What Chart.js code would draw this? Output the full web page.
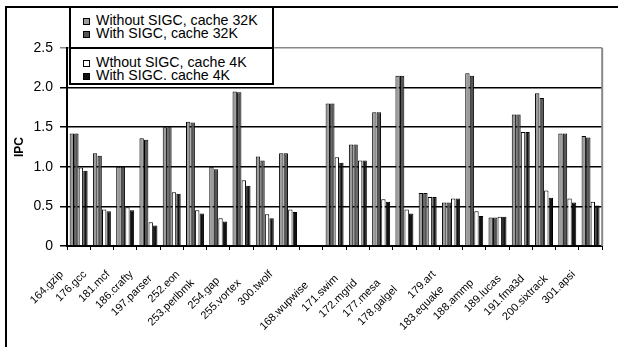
<!DOCTYPE html>
<html>
<head>
<meta charset="utf-8">
<script src="https://cdn.jsdelivr.net/npm/chart.js@4.4.1/dist/chart.umd.min.js"></script>
<style>
  html, body { margin: 0; padding: 0; background: #fff; overflow: hidden; width: 618px; height: 347px; }
  #wrap { position: relative; width: 618px; height: 347px; overflow: hidden; font-family: "Liberation Sans", Arial, sans-serif; }
  #frame { position: absolute; left: 5px; top: 6px; width: 613px; height: 341px; border-left: 2px solid #000; border-top: 2px solid #000; box-sizing: border-box; }
  #chart { position: absolute; left: 0; top: 0; }
  #legend { position: absolute; left: 69px; top: 6px; width: 205px; height: 79px; border: 2px solid #000; box-sizing: border-box; background: #fff; }
  #legend .sep { position: absolute; left: 0; right: 0; top: 39px; border-top: 2px solid #000; }
  #legend .entry { position: absolute; left: 25px; white-space: nowrap; font-size: 14.2px; line-height: 13px; color: #000; }
  #legend .mark { position: absolute; left: 12px; width: 7px; height: 7px; border: 1px solid #000; box-sizing: border-box; }
</style>
</head>
<body>
<div id="wrap">
  <canvas id="chart" width="618" height="347"></canvas>
  <div id="frame"></div>
  <div id="legend"><div class="sep"></div></div>
</div>
<script>
// Benchmarks (one empty slot separates the integer and floating-point suites)
const categories = ['164.gzip', '176.gcc', '181.mcf', '186.crafty', '197.parser', '252.eon',
  '253.perlbmk', '254.gap', '255.vortex', '300.twolf', '', '168.wupwise', '171.swim',
  '172.mgrid', '177.mesa', '178.galgel', '179.art', '183.equake', '188.ammp', '189.lucas',
  '191.fma3d', '200.sixtrack', '301.apsi'];

// IPC per configuration
const without32 = [1.42, 1.17, 1.00, 1.36, 1.50, 1.57, 1.00, 1.95, 1.13, 1.17, null, 1.80, 1.28,
  1.69, 2.15, 0.67, 0.55, 2.18, 0.36, 1.66, 1.93, 1.42, 1.39];
const with32 = [1.42, 1.14, 1.00, 1.34, 1.50, 1.56, 0.97, 1.94, 1.08, 1.17, null, 1.80, 1.28,
  1.69, 2.15, 0.67, 0.55, 2.15, 0.36, 1.66, 1.87, 1.42, 1.37];
const without4 = [0.99, 0.46, 0.49, 0.30, 0.68, 0.45, 0.35, 0.83, 0.40, 0.46, null, 1.12, 1.08,
  0.59, 0.46, 0.62, 0.60, 0.44, 0.37, 1.44, 0.70, 0.60, 0.56];
const with4 = [0.95, 0.44, 0.45, 0.26, 0.66, 0.41, 0.31, 0.76, 0.35, 0.43, null, 1.05, 1.08,
  0.56, 0.41, 0.62, 0.60, 0.38, 0.37, 1.44, 0.61, 0.55, 0.51];

const seriesLabels = ['Without SIGC, cache 32K', 'With SIGC, cache 32K', 'Wthout SIGC, cache 4K', 'With SIGC. cache 4K'];
const seriesColors = ['#9c9c9c', '#555555', '#ffffff', '#111111'];
const seriesValues = [without32, with32, without4, with4];

// Staggering of the slanted category labels (trailing blanks push a label down its slope)
const labelIndent = [0, 0, 0, 0, 2, 0, 4, 3, 4, 0, 0, 5, 2, 4, 4, 7, 0, 7, 4, 2, 2, 2, 0];

const FONT = '"Liberation Sans", Arial, sans-serif';

// Legend: two boxes of two entries each, built from the series lists
const legend = document.getElementById('legend');
const rowTops = [6, 19, 48, 61];
seriesLabels.forEach((label, i) => {
  const m = document.createElement('div');
  m.className = 'mark';
  m.style.top = (rowTops[i] + 4) + 'px';
  m.style.background = seriesColors[i];
  legend.appendChild(m);
  const t = document.createElement('div');
  t.className = 'entry';
  t.style.top = rowTops[i] + 'px';
  t.textContent = label;
  legend.appendChild(t);
});

// Gray edge along the right of the plot area
const plotEdge = {
  id: 'plotEdge',
  afterDraw(chart) {
    const { ctx, chartArea: a } = chart;
    ctx.save();
    ctx.strokeStyle = '#888';
    ctx.lineWidth = 2;
    ctx.beginPath();
    ctx.moveTo(a.right, a.top);
    ctx.lineTo(a.right, a.bottom);
    ctx.stroke();
    ctx.restore();
  }
};

new Chart(document.getElementById('chart'), {
  type: 'bar',
  data: {
    labels: categories,
    datasets: seriesValues.map((vals, i) => ({
      label: seriesLabels[i],
      data: vals,
      backgroundColor: seriesColors[i],
      borderColor: '#000',
      borderWidth: 1,
      categoryPercentage: 0.78,
      barPercentage: 0.96
    }))
  },
  options: {
    responsive: false,
    animation: false,
    layout: { padding: { left: 7, top: 48, right: 5, bottom: 0 } },
    plugins: { legend: { display: false }, tooltip: { enabled: false } },
    scales: {
      x: {
        grid: { drawOnChartArea: false, drawTicks: true, tickLength: 4, color: '#000', lineWidth: 1, offset: true },
        border: { color: '#000', width: 2 },
        ticks: {
          autoSkip: false, minRotation: 45, maxRotation: 45, labelOffset: -17, padding: 18,
          color: '#000', font: { family: FONT, size: 11 },
          callback: (v, i) => categories[i] + ' '.repeat(labelIndent[i])
        },
        afterFit(scale) { scale.height = 101; }
      },
      y: {
        min: 0, max: 2.5,
        ticks: { stepSize: 0.5, padding: 7, color: '#000', font: { family: FONT, size: 14 } },
        grid: {
          color: (c) => (c.tick && c.tick.value === 2.5 ? '#888' : '#000'),
          lineWidth: 1.5, tickLength: 7, drawTicks: true
        },
        border: { color: '#000', width: 2 },
        title: { display: true, text: 'IPC', color: '#000', padding: { top: 5, bottom: 0 }, font: { family: FONT, size: 12, weight: 'bold' } },
        afterFit(scale) { scale.width = 60; }
      }
    }
  },
  plugins: [plotEdge]
});
</script>
</body>
</html>
